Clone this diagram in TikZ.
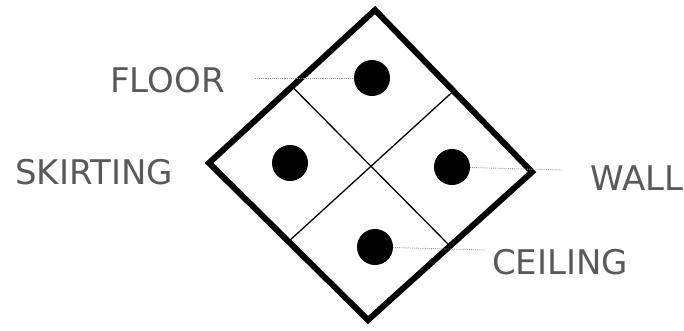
\documentclass[tikz,border=0pt]{standalone}
\usepackage{fontspec}
\setmainfont{DejaVu Sans}
\usetikzlibrary{calc}
\begin{document}
\begin{tikzpicture}[x=1pt,y=-1pt,
  dot/.style={circle,fill=black,inner sep=0pt,minimum size=36pt},
  lbl/.style={anchor=west,inner sep=0pt,font=\fontsize{34}{34}\selectfont,text=black!65},
  leader/.style={draw=black!40,line width=0.9pt,densely dotted},
  outer/.style={line width=6pt,line join=miter},
  inner/.style={line width=1.3pt}]
\useasboundingbox (0,0) rectangle (684,330);
% diamond corners
\coordinate (T) at (375,10);
\coordinate (R) at (532,172);
\coordinate (B) at (368,320);
\coordinate (L) at (209,163);
\draw[outer] (T) -- (R) -- (B) -- (L) -- cycle;
\draw[inner] ($(T)!0.5!(L)$) -- ($(R)!0.5!(B)$);
\draw[inner] ($(T)!0.5!(R)$) -- ($(L)!0.5!(B)$);
% dots
\node[dot] (dtop) at (372,78) {};
\node[dot] (dleft) at (290,163) {};
\node[dot] (dright) at (452,167) {};
\node[dot] (dbottom) at (375,247) {};
% labels
\node[lbl] (floor) at (110,80) {FLOOR};
\node[lbl] (skirting) at (15,172) {SKIRTING};
\node[lbl] (wall) at (590,178) {WALL};
\node[lbl] (ceiling) at (492,262) {CEILING};
% leaders
\coordinate (fl) at (255,78);
\coordinate (wl) at (562,170);
\coordinate (cl) at (485,250);
\draw[leader] (fl) -- (dtop);
\draw[leader] (dright) -- (wl);
\draw[leader] (dbottom) -- (cl);
\end{tikzpicture}
\end{document}
